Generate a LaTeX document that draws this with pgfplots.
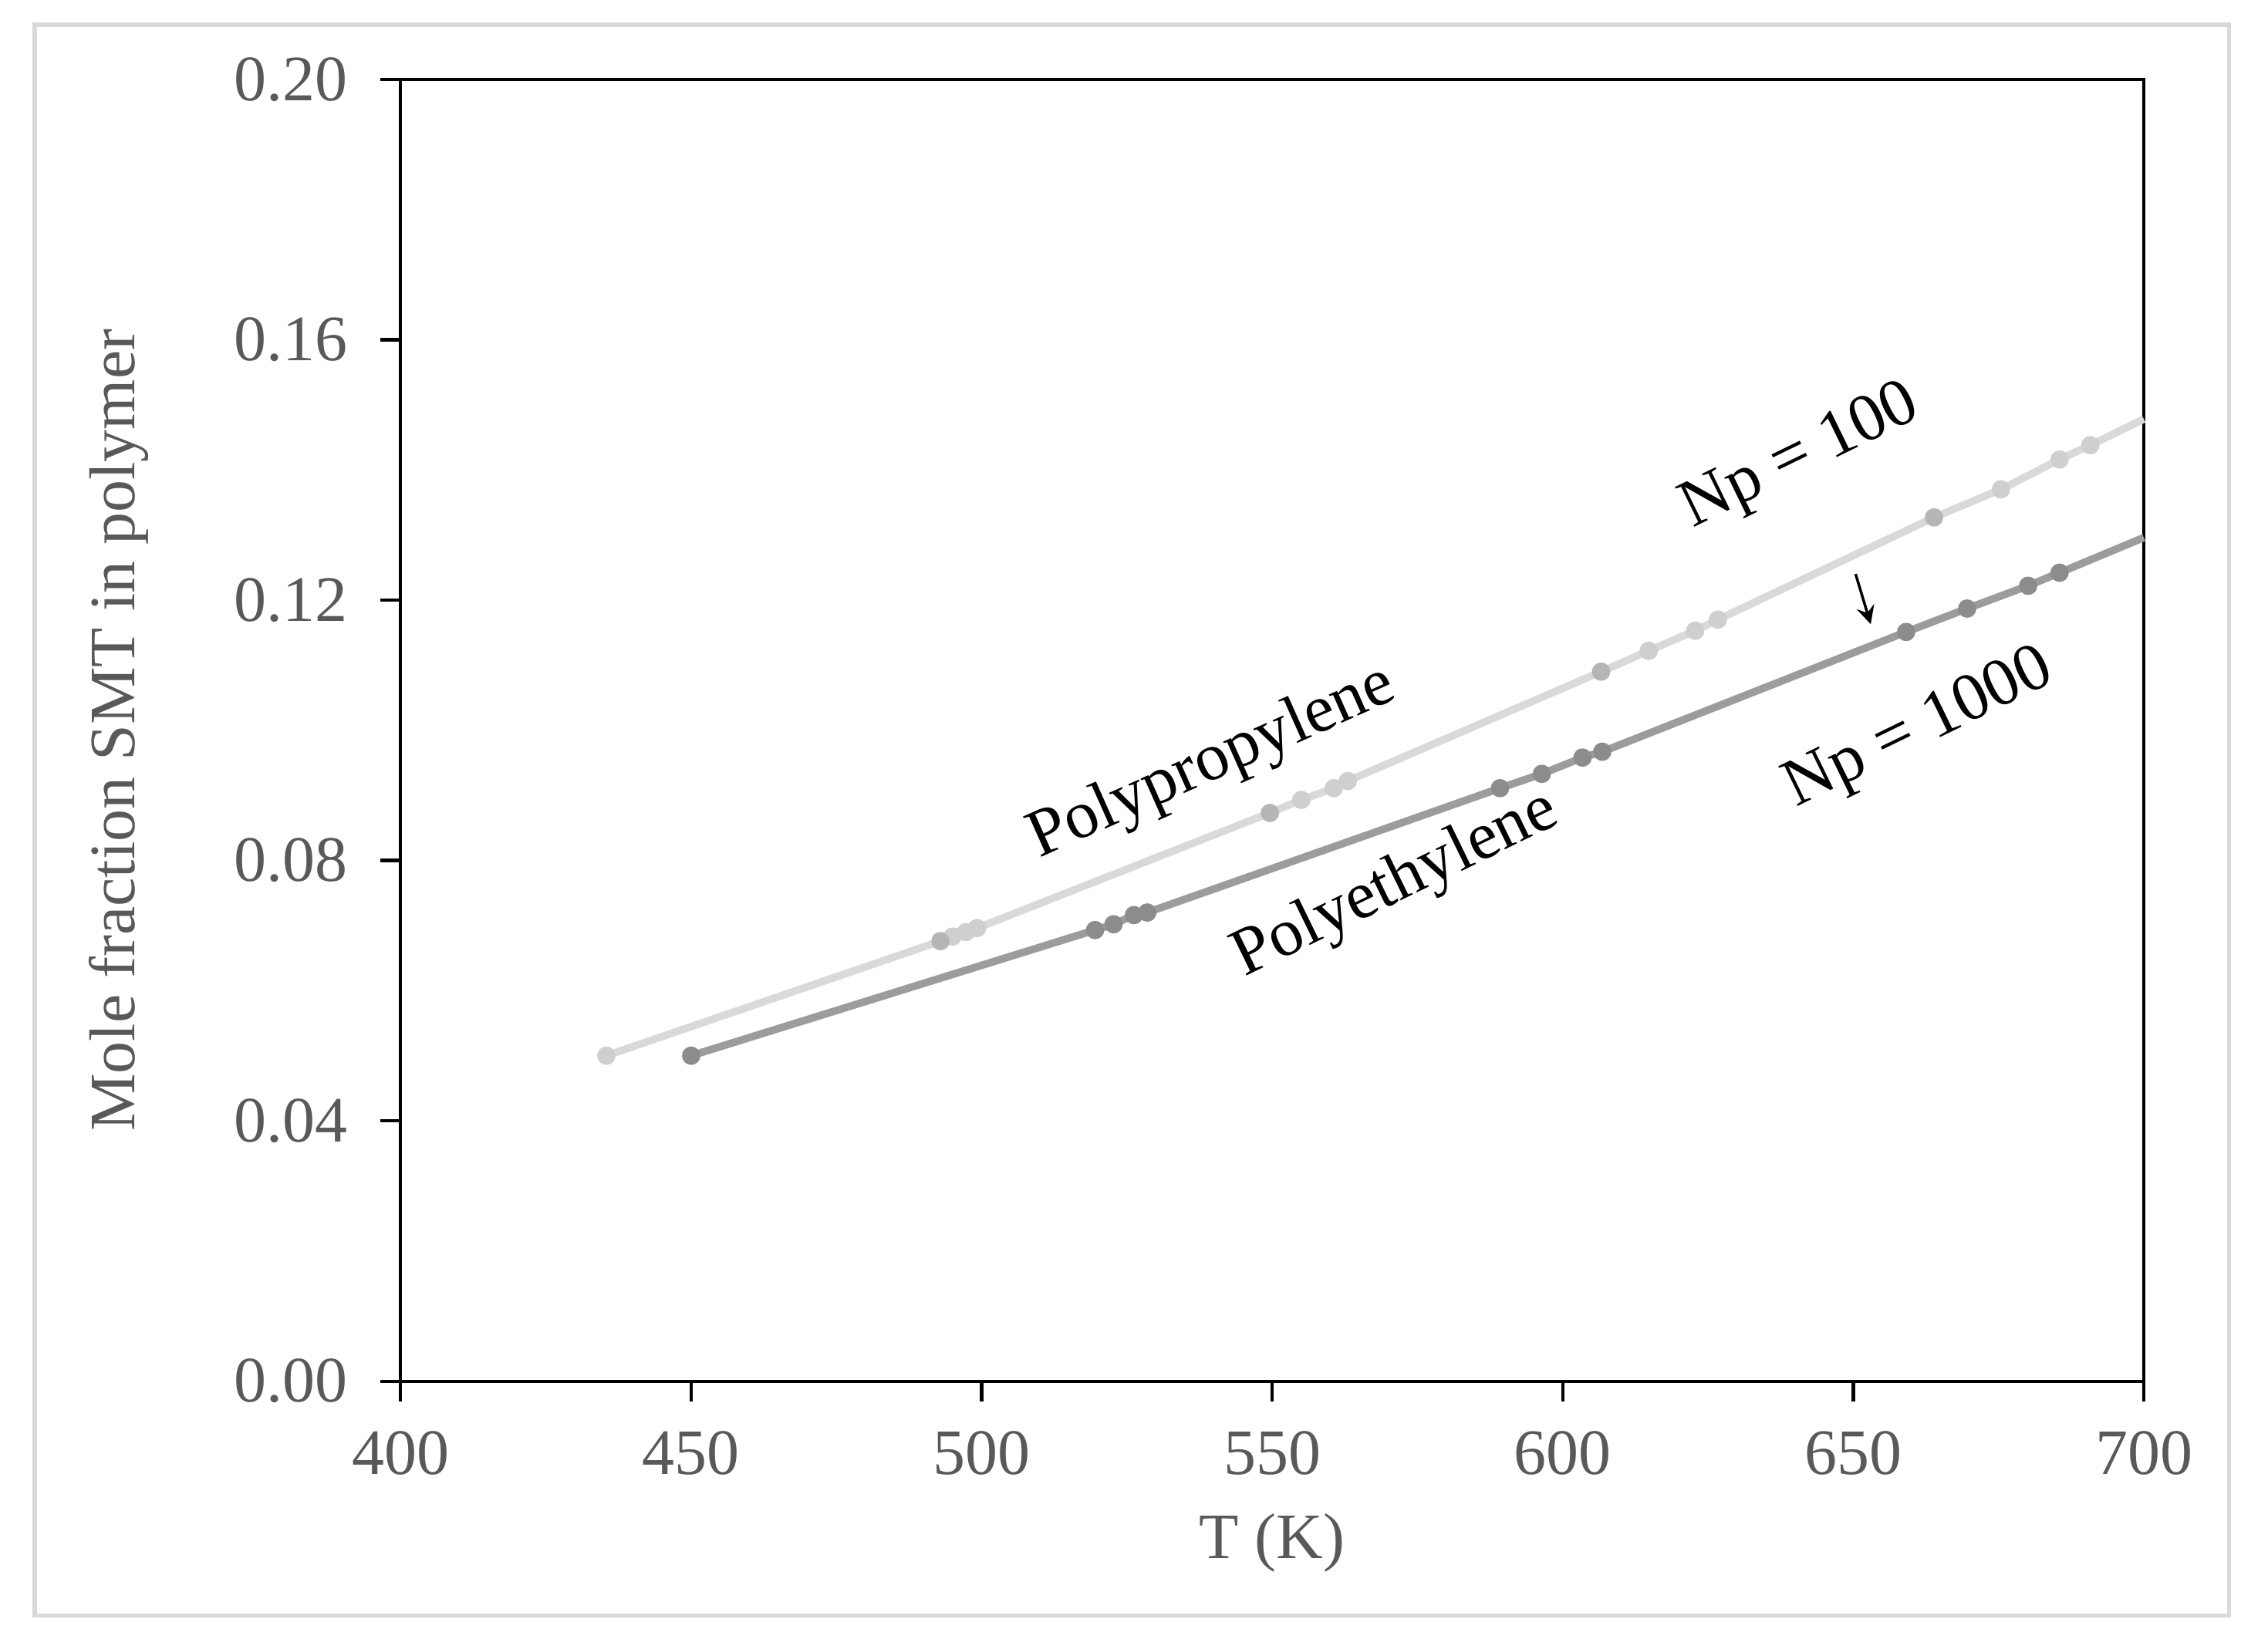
\documentclass[border=0pt]{standalone}
\usepackage{pgfplots}
\pgfplotsset{compat=1.18}
\usepackage{fontspec}
\setmainfont{Liberation Serif}

\definecolor{ppline}{HTML}{D9D9D9}
\definecolor{ppmark}{HTML}{CFCFCF}
\definecolor{ppmarkdark}{HTML}{B5B5B5}
\definecolor{peline}{HTML}{9C9C9C}
\definecolor{pemark}{HTML}{8C8C8C}
\definecolor{tickgray}{HTML}{595959}
\definecolor{framegray}{HTML}{D9D9D9}

\pgfplotstableread{
T x
435.4 0.0500
492.9 0.0676
495.0 0.0683
497.3 0.0690
499.2 0.0696
549.6 0.0873
555.0 0.0893
560.6 0.0911
563.0 0.0922
606.6 0.1090
614.8 0.1122
622.8 0.1153
626.7 0.1170
663.9 0.1327
675.4 0.1370
685.5 0.1416
690.8 0.1438
700.0 0.1478
}\pp

\pgfplotstableread{
T x
450.0 0.0500
519.5 0.0693
522.7 0.0702
526.2 0.0716
528.5 0.0720
589.2 0.0911
596.4 0.0933
603.4 0.0958
606.8 0.0967
659.1 0.1151
669.6 0.1187
680.1 0.1222
685.5 0.1242
700.0 0.1296
}\pe

\begin{document}
\begin{tikzpicture}
\useasboundingbox (-74.2pt,-49pt) rectangle (345.8pt,255.8pt);
\draw[framegray, line width=0.8pt] (-67.8pt,-43.4pt) rectangle (338.6pt,251.2pt);
\begin{axis}[
  scale only axis, width=322.8pt, height=241.1pt,
  xmin=400, xmax=700, ymin=0, ymax=0.2,
  xtick={400,450,500,550,600,650,700},
  ytick={0,0.04,0.08,0.12,0.16,0.20},
  tick align=outside, tick pos=left, major tick length=3.8pt,
  axis line style={black, line width=0.6pt},
  tick style={black, line width=0.6pt},
  /pgf/number format/assume math mode=true,
  ticklabel style={font=\fontsize{12}{14}\selectfont, text=tickgray},
  yticklabel style={xshift=-2.5pt, /pgf/number format/.cd, fixed, fixed zerofill, precision=2},
  xticklabel style={yshift=-2pt},
  xlabel={T (K)}, ylabel={Mole fraction SMT in polymer},
  label style={font=\fontsize{12}{14}\selectfont, text=tickgray},
  xlabel style={at={(axis description cs:0.5,-0.1244)}, anchor=center},
  ylabel style={at={(axis description cs:-0.1617,0.5)}, anchor=center},
  clip=false,
]
\addplot[ppline, line width=1.4pt] table[x=T, y=x] {\pp};
\addplot[peline, line width=1.4pt] table[x=T, y=x] {\pe};
\addplot[only marks, mark=*, mark size=1.5pt, ppmark] coordinates {
  (435.4,0.0500) (495.0,0.0683) (497.3,0.0690) (499.2,0.0696)
  (555.0,0.0893) (560.6,0.0911) (563.0,0.0922)
  (614.8,0.1122) (622.8,0.1153) (626.7,0.1170)
  (675.4,0.1370) (685.5,0.1416) (690.8,0.1438)};
\addplot[only marks, mark=*, mark size=1.5pt, ppmarkdark] coordinates {
  (492.9,0.0676) (549.6,0.0873) (606.6,0.1090) (663.9,0.1327)};
\addplot[only marks, mark=*, mark size=1.5pt, pemark] coordinates {
  (450.0,0.0500) (519.5,0.0693) (522.7,0.0702) (526.2,0.0716) (528.5,0.0720)
  (589.2,0.0911) (596.4,0.0933) (603.4,0.0958) (606.8,0.0967)
  (659.1,0.1151) (669.6,0.1187) (680.1,0.1222) (685.5,0.1242)};

\node[rotate=24, font=\fontsize{12.5}{15}\selectfont] at (axis cs:539.7,0.0949) {Polypropylene};
\node[rotate=26, font=\fontsize{12.5}{15}\selectfont] at (axis cs:571.3,0.0762) {Polyethylene};
\node[rotate=26, font=\fontsize{12.5}{15}\selectfont] at (axis cs:641.0,0.1418) {Np = 100};
\node[rotate=26, font=\fontsize{12.5}{15}\selectfont] at (axis cs:661.4,0.1000) {Np = 1000};
\draw[-stealth, line width=0.5pt] (axis cs:650.4,0.1240) -- (axis cs:653.0,0.1163);
\end{axis}
\end{tikzpicture}
\end{document}
